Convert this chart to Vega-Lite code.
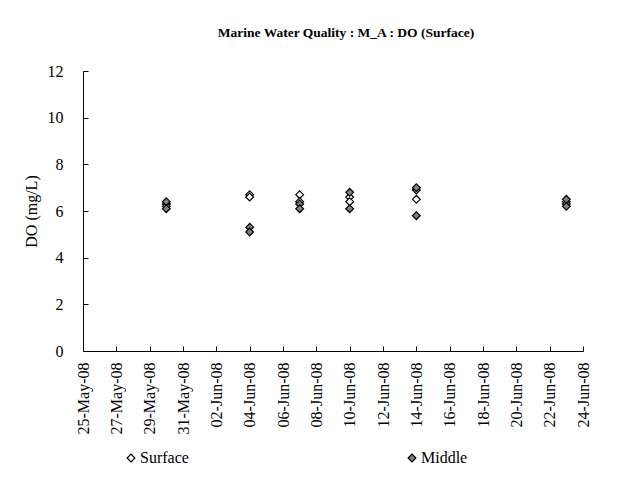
{
  "$schema": "https://vega.github.io/schema/vega-lite/v6.json",
  "width": 500,
  "height": 280,
  "autosize": {"type": "none"},
  "padding": {"left": 83, "top": 71, "right": 43, "bottom": 126},
  "background": "white",
  "title": {
    "text": "Marine Water Quality : M_A : DO (Surface)",
    "font": "Liberation Serif",
    "fontSize": 13.5,
    "fontWeight": "bold",
    "color": "black",
    "anchor": "middle",
    "frame": "group",
    "baseline": "bottom",
    "offset": 10,
    "dx": 13
  },
  "data": {
    "values": [
      {"date": "2008-05-30", "depth": "Surface", "DO": 6.3},
      {"date": "2008-05-30", "depth": "Surface", "DO": 6.2},
      {"date": "2008-06-04", "depth": "Surface", "DO": 6.7},
      {"date": "2008-06-04", "depth": "Surface", "DO": 6.6},
      {"date": "2008-06-07", "depth": "Surface", "DO": 6.7},
      {"date": "2008-06-07", "depth": "Surface", "DO": 6.4},
      {"date": "2008-06-10", "depth": "Surface", "DO": 6.6},
      {"date": "2008-06-10", "depth": "Surface", "DO": 6.4},
      {"date": "2008-06-14", "depth": "Surface", "DO": 6.9},
      {"date": "2008-06-14", "depth": "Surface", "DO": 6.5},
      {"date": "2008-06-23", "depth": "Surface", "DO": 6.4},
      {"date": "2008-06-23", "depth": "Surface", "DO": 6.3},
      {"date": "2008-05-30", "depth": "Middle", "DO": 6.4},
      {"date": "2008-05-30", "depth": "Middle", "DO": 6.1},
      {"date": "2008-06-04", "depth": "Middle", "DO": 5.3},
      {"date": "2008-06-04", "depth": "Middle", "DO": 5.1},
      {"date": "2008-06-07", "depth": "Middle", "DO": 6.3},
      {"date": "2008-06-07", "depth": "Middle", "DO": 6.1},
      {"date": "2008-06-10", "depth": "Middle", "DO": 6.8},
      {"date": "2008-06-10", "depth": "Middle", "DO": 6.1},
      {"date": "2008-06-14", "depth": "Middle", "DO": 7.0},
      {"date": "2008-06-14", "depth": "Middle", "DO": 5.8},
      {"date": "2008-06-23", "depth": "Middle", "DO": 6.5},
      {"date": "2008-06-23", "depth": "Middle", "DO": 6.2}
    ]
  },
  "mark": {"type": "point", "shape": "diamond", "filled": true, "stroke": "black", "strokeWidth": 1.2, "size": 60, "opacity": 1},
  "encoding": {
    "x": {
      "field": "date",
      "type": "temporal",
      "scale": {
        "type": "utc",
        "domain": [
          {"year": 2008, "month": 5, "date": 25, "utc": true},
          {"year": 2008, "month": 6, "date": 24, "utc": true}
        ]
      },
      "axis": {
        "title": null,
        "format": "%d-%b-%y",
        "values": [
          {"year": 2008, "month": 5, "date": 25, "utc": true},
          {"year": 2008, "month": 5, "date": 27, "utc": true},
          {"year": 2008, "month": 5, "date": 29, "utc": true},
          {"year": 2008, "month": 5, "date": 31, "utc": true},
          {"year": 2008, "month": 6, "date": 2, "utc": true},
          {"year": 2008, "month": 6, "date": 4, "utc": true},
          {"year": 2008, "month": 6, "date": 6, "utc": true},
          {"year": 2008, "month": 6, "date": 8, "utc": true},
          {"year": 2008, "month": 6, "date": 10, "utc": true},
          {"year": 2008, "month": 6, "date": 12, "utc": true},
          {"year": 2008, "month": 6, "date": 14, "utc": true},
          {"year": 2008, "month": 6, "date": 16, "utc": true},
          {"year": 2008, "month": 6, "date": 18, "utc": true},
          {"year": 2008, "month": 6, "date": 20, "utc": true},
          {"year": 2008, "month": 6, "date": 22, "utc": true},
          {"year": 2008, "month": 6, "date": 24, "utc": true}
        ],
        "labelAngle": 270,
        "labelAlign": "right",
        "labelBaseline": "middle",
        "labelPadding": 16,
        "labelFontSize": 16,
        "tickSize": -5,
        "labelOverlap": false,
        "labelFlush": false
      }
    },
    "y": {
      "field": "DO",
      "type": "quantitative",
      "scale": {"domain": [0, 12], "nice": false},
      "axis": {
        "title": "DO (mg/L)",
        "values": [0, 2, 4, 6, 8, 10, 12],
        "tickSize": -5,
        "labelPadding": 25,
        "labelFontSize": 16,
        "titleFontSize": 16,
        "titlePadding": 8
      }
    },
    "fill": {
      "field": "depth",
      "type": "nominal",
      "sort": ["Surface", "Middle"],
      "scale": {"domain": ["Surface", "Middle"], "range": ["white", "#808080"]},
      "legend": {
        "title": null,
        "orient": "none",
        "direction": "horizontal",
        "legendX": 40,
        "legendY": 379,
        "columnPadding": 215,
        "symbolType": "diamond",
        "symbolSize": 60,
        "symbolStrokeColor": "black",
        "symbolStrokeWidth": 1.2,
        "labelFont": "Liberation Serif",
        "labelFontSize": 16,
        "labelColor": "black",
        "labelOffset": 1
      }
    }
  },
  "config": {
    "view": {"stroke": null},
    "axis": {
      "grid": false,
      "domainColor": "black",
      "tickColor": "black",
      "labelColor": "black",
      "titleColor": "black",
      "labelFont": "Liberation Serif",
      "titleFont": "Liberation Serif",
      "titleFontWeight": "normal"
    }
  }
}
